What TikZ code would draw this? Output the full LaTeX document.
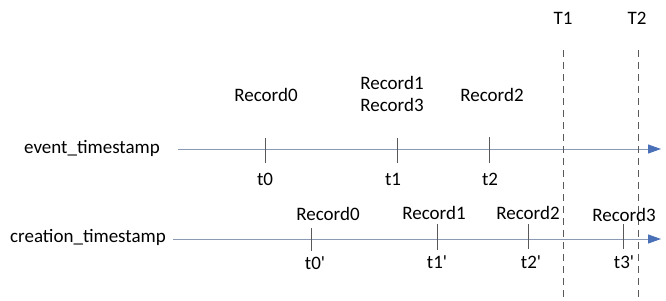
\documentclass[tikz,border=0pt]{standalone}
\usepackage{fontspec}
\setmainfont{Carlito}
\usetikzlibrary{arrows.meta}
\definecolor{axisc}{HTML}{8A9AB5}
\definecolor{tipc}{HTML}{4A70B8}
\definecolor{tickc}{HTML}{595959}
\begin{document}
\begin{tikzpicture}[x=1pt,y=-1pt,
  lbl/.style={font=\fontsize{19}{21}\selectfont, inner sep=0pt, text=black},
  axisline/.style={draw=axisc, line width=1pt, -{Triangle[length=13pt,width=9pt,fill=tipc,color=tipc]}},
  tickmark/.style={draw=tickc, line width=0.8pt},
  guide/.style={draw=tickc, line width=0.9pt, dash pattern=on 7pt off 5pt}]
\useasboundingbox (0,0) rectangle (666,300);
% axes
\coordinate (a1s) at (178,149); \coordinate (a1e) at (661,149);
\coordinate (a2s) at (173,239); \coordinate (a2e) at (661,239);
\draw[axisline] (a1s) -- (a1e);
\draw[axisline] (a2s) -- (a2e);
\node[lbl] (ev) at (92,148) {event\_timestamp};
\node[lbl] (cr) at (88,237) {creation\_timestamp};
% guides
\node[lbl] (T1) at (563,18) {T1};
\node[lbl] (T2) at (637,18) {T2};
\coordinate (g1s) at (563,50); \coordinate (g1e) at (563,300);
\coordinate (g2s) at (638,50); \coordinate (g2e) at (638,300);
\draw[guide] (g1s) -- (g1e);
\draw[guide] (g2s) -- (g2e);
% top ticks
\coordinate (k0a) at (265,138); \coordinate (k0b) at (265,163);
\coordinate (k1a) at (397,138); \coordinate (k1b) at (397,163);
\coordinate (k2a) at (489,137); \coordinate (k2b) at (489,163);
\draw[tickmark] (k0a) -- (k0b);
\draw[tickmark] (k1a) -- (k1b);
\draw[tickmark] (k2a) -- (k2b);
\node[lbl] (t0) at (265,179) {t0};
\node[lbl] (t1) at (393,179) {t1};
\node[lbl] (t2) at (490,179) {t2};
\node[lbl] (r0) at (266,95) {Record0};
\node[lbl] (r1) at (392,83) {Record1};
\node[lbl] (r3) at (392,105) {Record3};
\node[lbl] (r2) at (492,95) {Record2};
% bottom ticks
\coordinate (m0a) at (311,228); \coordinate (m0b) at (311,251);
\coordinate (m1a) at (437,224); \coordinate (m1b) at (437,250);
\coordinate (m2a) at (528,224); \coordinate (m2b) at (528,249);
\coordinate (m3a) at (623,224); \coordinate (m3b) at (623,249);
\draw[tickmark] (m0a) -- (m0b);
\draw[tickmark] (m1a) -- (m1b);
\draw[tickmark] (m2a) -- (m2b);
\draw[tickmark] (m3a) -- (m3b);
\node[lbl] (b0) at (328,214) {Record0};
\node[lbl] (b1) at (434,213) {Record1};
\node[lbl] (b2) at (528,213) {Record2};
\node[lbl] (b3) at (624,215) {Record3};
\node[lbl] (u0) at (315,263) {t0\textquotesingle};
\node[lbl] (u1) at (437,262) {t1\textquotesingle};
\node[lbl] (u2) at (531,262) {t2\textquotesingle};
\node[lbl] (u3) at (624,262) {t3\textquotesingle};
\end{tikzpicture}
\end{document}
